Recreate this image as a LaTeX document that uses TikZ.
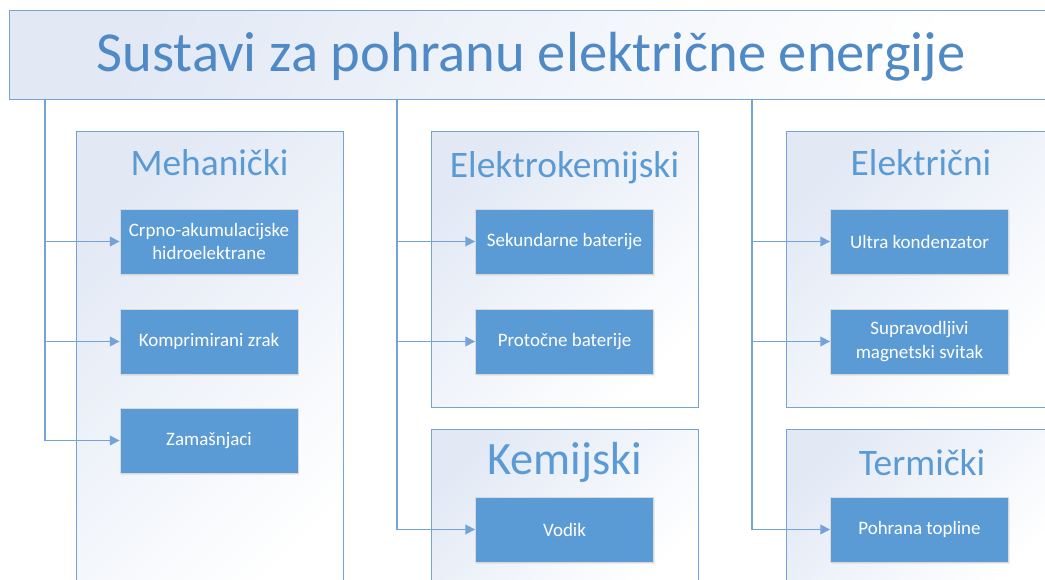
\documentclass[tikz,border=0pt]{standalone}
\usepackage{fontspec}
\setmainfont{Carlito}
\usetikzlibrary{arrows.meta,shadows}

\definecolor{accblue}{HTML}{5B9BD5}
\definecolor{lineblue}{HTML}{74A3D8}
\definecolor{paleblue}{HTML}{E2E9F5}
\definecolor{titleblue}{HTML}{4F8AC6}

\begin{document}
\begin{tikzpicture}[x=0.02cm, y=-0.02cm,
    titlebox/.style={rectangle, draw=lineblue, line width=0.8pt, anchor=north west,
                     top color=paleblue, bottom color=white, shading angle=60,
                     minimum width=20.88cm, minimum height=1.78cm, inner sep=0pt},
    catbox/.style={rectangle, draw=lineblue, line width=0.8pt, anchor=north west,
                   top color=paleblue, bottom color=white, shading angle=45,
                   minimum width=5.34cm, inner sep=0pt},
    cathead/.style={anchor=base, text=accblue, font=\fontsize{21.3}{24}\selectfont},
    subbox/.style={rectangle, fill=accblue, draw=black!15, line width=0.5pt,
                   minimum width=3.56cm, minimum height=1.3cm, align=center,
                   text=white, font=\fontsize{10.8}{13.5}\selectfont, inner sep=2pt,
                   drop shadow={opacity=0.12, shadow xshift=0.6pt, shadow yshift=-1.2pt}},
    conn/.style={-{Triangle[length=5.5pt,width=5.5pt]}, draw=lineblue, line width=0.9pt},
  ]
  \useasboundingbox (0,0) rectangle (1045,580);
  \clip (0,0) rectangle (1045,580);

  % --- Title ---
  \node[titlebox] (title) at (9,10) {};
  \node[anchor=base, text=titleblue, font=\fontsize{32.2}{36}\selectfont]
    (titletxt) at (531,72) {Sustavi za pohranu električne energije};

  % --- Category frames ---
  \node[catbox, minimum height=9.6cm] (mech)  at (76,131)  {};
  \node[catbox, minimum height=5.52cm] (elkem) at (431,131) {};
  \node[catbox, minimum height=3.2cm] (kem)   at (431,429) {};
  \node[catbox, minimum height=5.52cm] (elek)  at (786,131) {};
  \node[catbox, minimum height=3.2cm] (term)  at (786,429) {};

  \node[cathead] (mechT)  at (209.5,176) {Mehanički};
  \node[cathead] (elkemT) at (564.5,178) {Elektrokemijski};
  \node[cathead, font=\fontsize{26.4}{29}\selectfont] (kemT) at (564.5,475) {Kemijski};
  \node[cathead] (elekT)  at (921,176)   {Električni};
  \node[cathead] (termT)  at (922,476)   {Termički};

  % --- Storage types ---
  \node[subbox] (crpno) at (209,241.5) {Crpno-akumulacijske\\hidroelektrane};
  \node[subbox] (zrak)  at (209,341.5) {Komprimirani zrak};
  \node[subbox] (zamas) at (209,440.5) {Zamašnjaci};

  \node[subbox] (sekbat) at (564.5,241.5) {Sekundarne baterije};
  \node[subbox] (probat) at (564.5,341.5) {Protočne baterije};
  \node[subbox] (vodik)  at (564.5,529.5) {Vodik};

  \node[subbox] (ultra)  at (919.5,241.5) {Ultra kondenzator};
  \node[subbox] (supra)  at (919.5,341.5) {Supravodljivi\\magnetski svitak};
  \node[subbox] (toplin) at (919.5,529.5) {Pohrana topline};

  % --- Connectors ---
  \coordinate (busM) at (45,99);
  \coordinate (busK) at (397,99);
  \coordinate (busE) at (752,99);

  \draw[conn] (busM) |- (crpno.west);
  \draw[conn] (busM) |- (zrak.west);
  \draw[conn] (busM) |- (zamas.west);

  \draw[conn] (busK) |- (sekbat.west);
  \draw[conn] (busK) |- (probat.west);
  \draw[conn] (busK) |- (vodik.west);

  \draw[conn] (busE) |- (ultra.west);
  \draw[conn] (busE) |- (supra.west);
  \draw[conn] (busE) |- (toplin.west);

\end{tikzpicture}
\end{document}
